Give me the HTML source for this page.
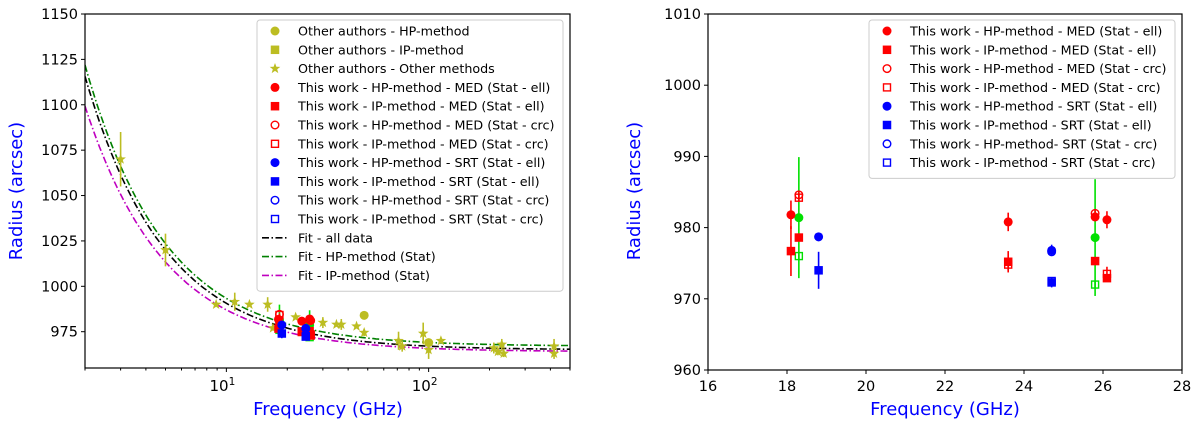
<!DOCTYPE html>
<html><head><meta charset="utf-8"><style>
body{margin:0;background:#fff;font-family:"Liberation Sans","DejaVu Sans",sans-serif}
svg text{font-family:"DejaVu Sans","Liberation Sans",sans-serif}
</style></head><body>
<svg id="c" width="1200" height="426" viewBox="0 0 1200 426"></svg>
<script>
// ---------- data ----------
const otherFreq = [3,5,8.9,11,13,16,17,22,30,35,37,44,48,71,74,94,100,115,210,220,230,235,417,417];
const otherVal  = [1070,1020,990,991.5,990,990,977,983,980,979,979,978,974.5,970,967,974,965,970,966,964,968,963,967,963];
const otherErr  = [15,9,1,5,1,4,1,1,3,1,3,1,2,5,3,6,5,1,3,2,3,2,4,3];
const otherCircFreq = [48,100];
const otherCircVal  = [984,969];
// this work
const hpMedEllF=[18.1,23.6,25.8,26.1], hpMedEllV=[981.8,980.8,981.5,981.1], hpMedEllE=[2,1.3,0.6,1.2];
const ipMedEllF=[18.1,18.3,23.6,25.8,26.1], ipMedEllV=[976.7,978.6,975.2,975.3,972.9], ipMedEllE=[3.5,0.5,1.5,0.5,0.5];
const hpMedCrcF=[18.3,25.8], hpMedCrcV=[984.6,982], hpMedCrcE=[0.5,0.5];
const ipMedCrcF=[18.3,23.6,26.1], ipMedCrcV=[984.2,974.8,973.5], ipMedCrcE=[0.5,0.8,1];
const hpSrtEllF=[18.8,24.7], hpSrtEllV=[978.7,976.8], hpSrtEllE=[0.6,0.8];
const ipSrtEllF=[18.8,24.7], ipSrtEllV=[974,972.3], ipSrtEllE=[2.6,0.7];
const hpSrtCrcF=[24.7], hpSrtCrcV=[976.6];
const ipSrtCrcF=[24.7], ipSrtCrcV=[972.5];
const grnCircF=[18.3,25.8], grnCircV=[981.4,978.6], grnCircE=[8.5,8.2];
const grnSqF=[18.3,25.8], grnSqV=[976,972], grnSqE=[0.5,0.5];
// fit params: R = Rinf + A*nu^-p
const fitRinf=[965,967,964], fitA=[323,332,290], fitP=[1.1,1.1,1.1];
const leftYTicks=[975,1000,1025,1050,1075,1100,1125,1150];
const rightYTicks=[960,970,980,990,1000,1010];
const rightXTicks=[16,18,20,22,24,26,28];

const NS="http://www.w3.org/2000/svg", svg=document.getElementById('c');
function el(t,a,p){const e=document.createElementNS(NS,t);for(const k in a)e.setAttribute(k,a[k]);(p||svg).appendChild(e);return e;}
const Y='#bcbd22',R='#ff0000',B='#0000ff',G='#00e000';
const L={x0:85,x1:570,y0:368,y1:14};
const lx=f=>L.x0+(Math.log10(f)-Math.log10(2))/(Math.log10(500)-Math.log10(2))*(L.x1-L.x0);
const ly=v=>L.y0-(v-955)/(1150-955)*(L.y0-L.y1);
const RA={x0:708,x1:1182,y0:370,y1:14};
const rx=f=>RA.x0+(f-16)/12*(RA.x1-RA.x0);
const ry=v=>RA.y0-(v-960)/50*(RA.y0-RA.y1);

function marker(g,type,x,y,c,name){
  let e;
  if(type==='st'){const pts=[];for(let i=0;i<10;i++){const r=i%2?2.3:5.6,a=-Math.PI/2+i*Math.PI/5;pts.push((x+r*Math.cos(a)).toFixed(1)+','+(y+r*Math.sin(a)).toFixed(1));}
    e=el('polygon',{points:pts.join(' '),fill:c},g);}
  else if(type[0]==='c') e=el('circle',{cx:x,cy:y,r:type==='co'?3.8:4.5,fill:type==='co'?'none':c,stroke:c,'stroke-width':type==='co'?1.4:0},g);
  else {const s=type==='so'?7:8.5;e=el('rect',{x:x-s/2,y:y-s/2,width:s,height:s,fill:type==='so'?'none':c,stroke:c,'stroke-width':type==='so'?1.4:0},g);}
  
  
}
function series(g,fx,fy,F,V,E,type,c,name){
  F.forEach((f,i)=>{
    if(E){const l=el('line',{x1:fx(f),x2:fx(f),y1:fy(V[i]-E[i]),y2:fy(V[i]+E[i]),stroke:c,'stroke-width':1.6},g);
      
      }
    marker(g,type,fx(f),fy(V[i]),c,name);
  });
}
function axesFrame(A,name){
  const r=el('rect',{x:A.x0,y:A.y1,width:A.x1-A.x0,height:A.y0-A.y1,fill:'none',stroke:'#000','stroke-width':1.2});
  
  
}
// ---- left plot ----
const gl=el('g',{'clip-path':'url(#cl)'});
const cp=el('clipPath',{id:'cl'});el('rect',{x:L.x0,y:L.y1,width:L.x1-L.x0,height:L.y0-L.y1},cp);
const fitCol=['#000','#008000','#bf00bf'],fitName=['fit-all-data','fit-hp-method','fit-ip-method'];
fitRinf.forEach((ri,k)=>{
  let d='';for(let i=0;i<=200;i++){const f=2*Math.pow(250,i/200);d+=(i?'L':'M')+lx(f).toFixed(1)+','+ly(ri+fitA[k]*Math.pow(f,-fitP[k])).toFixed(1);}
  const p=el('path',{d,fill:'none',stroke:fitCol[k],'stroke-width':1.6,'stroke-dasharray':'7,2.5,1.5,2.5'},gl);
  
  
});
otherFreq.forEach((f,i)=>{const l=el('line',{x1:lx(f),x2:lx(f),y1:ly(otherVal[i]-otherErr[i]),y2:ly(otherVal[i]+otherErr[i]),stroke:Y,'stroke-width':1.6},gl);
  
  
  marker(gl,'st',lx(f),ly(otherVal[i]),Y,'other-methods-point');});
otherCircFreq.forEach((f,i)=>marker(gl,'c',lx(f),ly(otherCircVal[i]),Y,'other-hp-point'));
function thisWork(g,fx,fy){
  series(g,fx,fy,grnCircF,grnCircV,grnCircE,'c',G,'green-circle');
  series(g,fx,fy,grnSqF,grnSqV,grnSqE,'so',G,'green-square');
  series(g,fx,fy,hpMedEllF,hpMedEllV,hpMedEllE,'c',R,'hp-med-ell');
  series(g,fx,fy,ipMedEllF,ipMedEllV,ipMedEllE,'s',R,'ip-med-ell');
  series(g,fx,fy,hpMedCrcF,hpMedCrcV,hpMedCrcE,'co',R,'hp-med-crc');
  series(g,fx,fy,ipMedCrcF,ipMedCrcV,ipMedCrcE,'so',R,'ip-med-crc');
  series(g,fx,fy,hpSrtEllF,hpSrtEllV,hpSrtEllE,'c',B,'hp-srt-ell');
  series(g,fx,fy,ipSrtEllF,ipSrtEllV,ipSrtEllE,'s',B,'ip-srt-ell');
  series(g,fx,fy,hpSrtCrcF,hpSrtCrcV,null,'co',B,'hp-srt-crc');
  series(g,fx,fy,ipSrtCrcF,ipSrtCrcV,null,'so',B,'ip-srt-crc');
}
thisWork(gl,lx,ly);
axesFrame(L,'left-axes');
leftYTicks.forEach(v=>{el('line',{x1:L.x0-4,x2:L.x0,y1:ly(v),y2:ly(v),stroke:'#000'});
  const t=el('text',{x:L.x0-7,y:ly(v)+5,'text-anchor':'end','font-size':14.5});t.textContent=v;
  
  });
for(let d=0;d<3;d++)for(let m=1;m<10;m++){const f=m*Math.pow(10,d);if(f<2||f>500)continue;
  el('line',{x1:lx(f),x2:lx(f),y1:L.y0,y2:L.y0+(m===1?4:2.5),stroke:'#000'});}
[[10,'1'],[100,'2']].forEach(([f,e])=>{const t=el('text',{x:lx(f)-4,y:391,'text-anchor':'middle','font-size':15});
  t.innerHTML='10<tspan dy="-6" font-size="10.5">'+e+'</tspan>';
  
  });
// ---- right plot ----
const gr=el('g',{});
thisWork(gr,rx,ry);
axesFrame(RA,'right-axes');
rightYTicks.forEach(v=>{el('line',{x1:RA.x0-4,x2:RA.x0,y1:ry(v),y2:ry(v),stroke:'#000'});
  const t=el('text',{x:RA.x0-7,y:ry(v)+5,'text-anchor':'end','font-size':14.5});t.textContent=v;
  
  });
rightXTicks.forEach(v=>{el('line',{x1:rx(v),x2:rx(v),y1:RA.y0,y2:RA.y0+4,stroke:'#000'});
  const t=el('text',{x:rx(v),y:391,'text-anchor':'middle','font-size':14.5});t.textContent=v;
  
  });
function title(x,y,txt,rot,name){const t=el('text',{x,y,'text-anchor':'middle','font-size':18,fill:'#0000ff',transform:rot?`rotate(-90 ${x} ${y})`:''});t.textContent=txt;
  
  }
title(22,191,'Radius (arcsec)',1,'left-y-axis-title');
title(328,415,'Frequency (GHz)',0,'left-x-axis-title');
title(640,191,'Radius (arcsec)',1,'right-y-axis-title');
title(945,415,'Frequency (GHz)',0,'right-x-axis-title');
function legend(x0,y0,w,items,name){
  const g=el('g',{});
  
  
  el('rect',{x:x0,y:y0,width:w,height:items.length*18.8+8,rx:3,fill:'#fff','fill-opacity':0.85,stroke:'#ccc'},g);
  items.forEach((it,i)=>{const y=y0+11+i*18.8;
    if(it[0]==='line'){const l=el('line',{x1:x0+5,x2:x0+31,y1:y,y2:y,stroke:it[1],'stroke-width':1.6,'stroke-dasharray':'7,2.5,1.5,2.5'},g);
      
      }
    else marker(g,it[0],x0+18,y,it[1],'legend-marker');
    const t=el('text',{x:x0+41,y:y+4.5,'font-size':12.7},g);t.textContent=it[2];
    
    });
}
const twItems=[['c',R,'This work - HP-method - MED (Stat - ell)'],['s',R,'This work - IP-method - MED (Stat - ell)'],['co',R,'This work - HP-method - MED (Stat - crc)'],['so',R,'This work - IP-method - MED (Stat - crc)'],['c',B,'This work - HP-method - SRT (Stat - ell)'],['s',B,'This work - IP-method - SRT (Stat - ell)'],['co',B,'This work - HP-method - SRT (Stat - crc)'],['so',B,'This work - IP-method - SRT (Stat - crc)']];
legend(257,20,306,[['c',Y,'Other authors - HP-method'],['s',Y,'Other authors - IP-method'],['st',Y,'Other authors - Other methods']].concat(twItems,[['line','#000','Fit - all data'],['line','#008000','Fit - HP-method (Stat)'],['line','#bf00bf','Fit - IP-method (Stat)']]),'left-legend');
const ti=twItems.map(a=>a.slice());ti[6][2]='This work - HP-method- SRT (Stat - crc)';
legend(869,20,306,ti,'right-legend');
</script>
</body></html>
